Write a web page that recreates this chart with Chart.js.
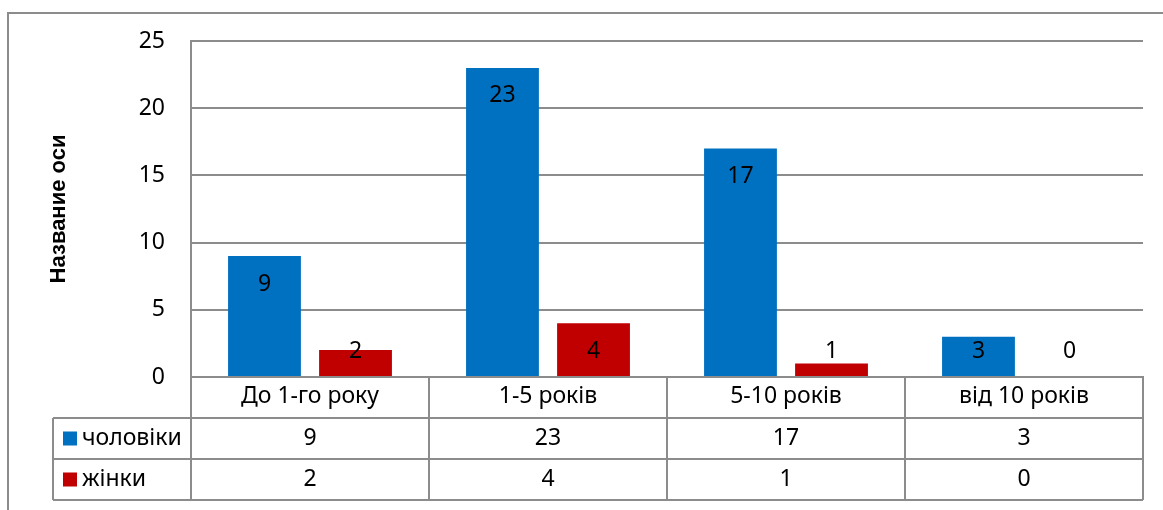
<!DOCTYPE html>
<html>
<head>
<meta charset="utf-8">
<script src="https://cdn.jsdelivr.net/npm/chart.js@4/dist/chart.umd.min.js"></script>
<style>
  html, body { margin: 0; padding: 0; background: #fff; }
  #wrap { width: 1163px; height: 510px; position: relative; }
</style>
</head>
<body>
<div id="wrap"><canvas id="chart"></canvas></div>
<script>
// Стаж роботи: чоловіки / жінки
const categories = ['До 1-го року', '1-5 років', '5-10 років', 'від 10 років'];
const menValues = [9, 23, 17, 3];
const womenValues = [2, 4, 1, 0];
const seriesNames = ['чоловіки', 'жінки'];
const yTicks = [0, 5, 10, 15, 20, 25];

const BLUE = '#0070C0';
const RED = '#C00000';
const LINE = '#8c8c8c';
const FONT = "'Noto Sans', 'Open Sans', sans-serif";
const FONT_SIZE = 23;

const ROW_H = 41;       // height of one data table row
const TABLE_LEFT = 53;  // left edge of the series name column

// value labels inside the top of each bar
const barLabels = {
  id: 'barLabels',
  afterDatasetsDraw(chart) {
    const ctx = chart.ctx;
    const base = chart.scales.y.getPixelForValue(0);
    ctx.save();
    ctx.font = FONT_SIZE + 'px ' + FONT;
    ctx.fillStyle = '#000';
    ctx.textAlign = 'center';
    ctx.textBaseline = 'middle';
    chart.data.datasets.forEach((ds, i) => {
      chart.getDatasetMeta(i).data.forEach((bar, j) => {
        const y = Math.min(bar.y + 28, base - 26);
        ctx.fillText(String(ds.data[j]), bar.x, y);
      });
    });
    ctx.restore();
  }
};

// data table under the x axis plus the outer frame
const dataTable = {
  id: 'dataTable',
  afterDraw(chart) {
    const ctx = chart.ctx;
    const area = chart.chartArea;
    const x = chart.scales.x;
    const colW = (area.right - area.left) / categories.length;
    const top = area.bottom;
    ctx.save();
    ctx.strokeStyle = LINE;
    ctx.lineWidth = 2;

    ctx.beginPath();
    // horizontal rules
    for (let r = 1; r <= 3; r++) {
      const y = top + r * ROW_H;
      ctx.moveTo(TABLE_LEFT, y);
      ctx.lineTo(area.right, y);
    }
    // column rules
    for (let c = 0; c <= categories.length; c++) {
      const cx = area.left + c * colW;
      ctx.moveTo(cx, top);
      ctx.lineTo(cx, top + 3 * ROW_H);
    }
    ctx.moveTo(TABLE_LEFT, top + ROW_H);
    ctx.lineTo(TABLE_LEFT, top + 3 * ROW_H);
    ctx.stroke();

    // outer frame
    ctx.beginPath();
    ctx.moveTo(8, 510);
    ctx.lineTo(8, 13);
    ctx.lineTo(1163, 13);
    ctx.stroke();

    ctx.font = FONT_SIZE + 'px ' + FONT;
    ctx.fillStyle = '#000';
    ctx.textBaseline = 'middle';
    const rows = [menValues, womenValues];
    const colors = [BLUE, RED];
    rows.forEach((vals, r) => {
      const cy = top + (r + 1) * ROW_H + ROW_H / 2;
      ctx.fillStyle = colors[r];
      ctx.fillRect(TABLE_LEFT + 10, cy - 7, 14, 14);
      ctx.fillStyle = '#000';
      ctx.textAlign = 'left';
      ctx.fillText(seriesNames[r], TABLE_LEFT + 29, cy);
      ctx.textAlign = 'center';
      vals.forEach((v, j) => {
        ctx.fillText(String(v), x.getPixelForValue(j), cy);
      });
    });
    ctx.restore();
  }
};

new Chart(document.getElementById('chart'), {
  type: 'bar',
  data: {
    labels: categories,
    datasets: [
      { label: seriesNames[0], data: menValues, backgroundColor: BLUE },
      { label: seriesNames[1], data: womenValues, backgroundColor: RED }
    ]
  },
  options: {
    responsive: true,
    maintainAspectRatio: false,
    animation: false,
    layout: { padding: { top: 41, right: 20, bottom: 0, left: 0 } },
    datasets: { bar: { categoryPercentage: 0.765, barPercentage: 0.8 } },
    plugins: { legend: { display: false }, tooltip: { enabled: false } },
    scales: {
      x: {
        grid: { display: false, drawTicks: false },
        border: { display: true, color: LINE, width: 2 },
        ticks: { color: '#000', font: { family: FONT, size: FONT_SIZE }, padding: 6 },
        afterFit: (scale) => { scale.height = 133; }
      },
      y: {
        min: 0,
        max: 25,
        afterBuildTicks: (scale) => { scale.ticks = yTicks.map(v => ({ value: v })); },
        grid: { color: LINE, lineWidth: 2, drawTicks: false },
        border: { display: true, color: LINE, width: 2 },
        ticks: { color: '#000', font: { family: FONT, size: FONT_SIZE }, padding: 26 },
        title: {
          display: true,
          text: 'Название оси',
          color: '#000',
          font: { family: "'Liberation Sans', Arial, sans-serif", size: 22, weight: 'bold' },
          padding: { top: 46, bottom: 0 }
        },
        afterFit: (scale) => { scale.width = 191; }
      }
    }
  },
  plugins: [barLabels, dataTable]
});
</script>
</body>
</html>
